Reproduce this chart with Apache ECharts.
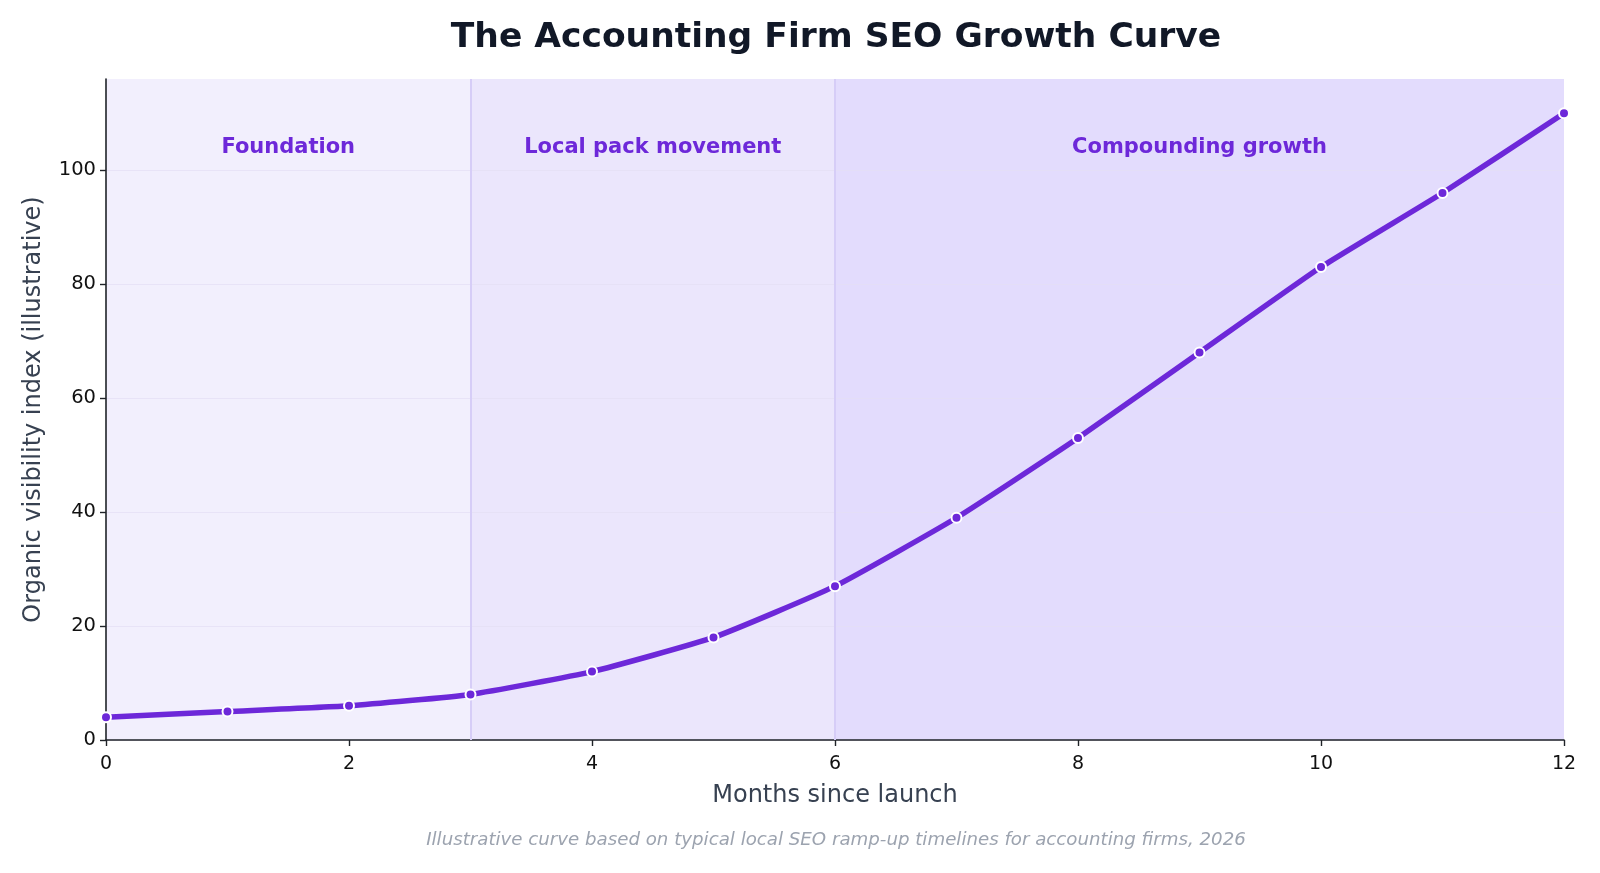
<!DOCTYPE html>
<html>
<head>
<meta charset="utf-8">
<script src="https://cdn.jsdelivr.net/npm/echarts@6/dist/echarts.min.js"></script>
<style>html,body{margin:0;padding:0;background:#fff}#c{width:1600px;height:873px}</style>
</head>
<body>
<div id="c"></div>
<script>
const months = [0,1,2,3,4,5,6,7,8,9,10,11,12];
const visibility = [4,5,6,8,12,18,27,39,53,68,83,96,110];
const phaseNames = ['Foundation','Local pack movement','Compounding growth'];
const phaseStarts = [0,3,6];
const phaseEnds = [3,6,12];
const phaseColors = ['#f2effd','#ebe6fc','#e3dcfd'];
const phaseBoundaries = [3,6];
const yTicks = [0,20,40,60,80,100];
const xTicks = [0,2,4,6,8,10,12];

const chart = echarts.init(document.getElementById('c'));
const FONT = 'DejaVu Sans';

const areas = phaseNames.map((n,i)=>[
  {xAxis: phaseStarts[i], itemStyle:{color: phaseColors[i]}, name:n},
  {xAxis: phaseEnds[i]}
]);

chart.setOption({
  animation:false,
  backgroundColor:'#fff',
  textStyle:{fontFamily:FONT},
  title:[{
    text:'The Accounting Firm SEO Growth Curve',
    left:831, top:16, textAlign:'center',
    textStyle:{fontFamily:FONT,fontWeight:'bold',fontSize:34.5,color:'#111827'}
  },{
    text:'Illustrative curve based on typical local SEO ramp-up timelines for accounting firms, 2026',
    left:831, top:826, textAlign:'center',
    textStyle:{fontFamily:FONT,fontStyle:'italic',fontWeight:'normal',fontSize:18.2,color:'#9ca3af'}
  }],
  grid:{left:106,right:36,top:79,bottom:133},
  xAxis:{
    type:'value',min:0,max:12,interval:2,z:3,
    name:'Months since launch',nameLocation:'middle',nameGap:44,
    nameTextStyle:{fontFamily:FONT,fontSize:24,color:'#374151'},
    axisLine:{show:true,lineStyle:{color:'#1f2328',width:1.6}},
    axisTick:{show:true,length:6,lineStyle:{color:'#1f2328',width:1.4},customValues:xTicks},
    axisLabel:{fontFamily:FONT,fontSize:19,color:'#111',margin:15,customValues:xTicks},
    splitLine:{show:false}
  },
  yAxis:{
    type:'value',min:0,max:116,interval:20,z:3,
    name:'Organic visibility index (illustrative)',nameLocation:'middle',nameGap:60,
    nameTextStyle:{fontFamily:FONT,fontSize:24,color:'#374151'},
    axisLine:{show:true,lineStyle:{color:'#1f2328',width:1.6}},
    axisTick:{show:true,length:6,lineStyle:{color:'#1f2328',width:1.4},customValues:yTicks},
    axisLabel:{fontFamily:FONT,fontSize:19.5,color:'#111',margin:10,customValues:yTicks},
    splitLine:{show:true,lineStyle:{color:'#e4def4',width:1,opacity:0.7}}
  },
  series:[{
    type:'line',
    data:[],
    z:1,
    silent:true,
    markArea:{
      silent:true,
      label:{show:true,position:'insideTop',distance:58,
        fontFamily:FONT,fontWeight:'bold',fontSize:21,color:'#6d28d9'},
      data:areas
    },
    markLine:{
      silent:true,symbol:'none',
      label:{show:false},
      lineStyle:{color:'#d6cdf7',width:2,type:'solid'},
      data:phaseBoundaries.map(v=>({xAxis:v}))
    }
  },{
    type:'line',
    z:5,
    data:months.map((m,i)=>[m,visibility[i]]),
    smooth:0.15,
    lineStyle:{color:'#6d28d9',width:5.5},
    symbol:'circle',symbolSize:10,
    itemStyle:{color:'#6d28d9',borderColor:'#ffffff',borderWidth:2},
    clip:false
  }]
});
</script>
</body>
</html>
